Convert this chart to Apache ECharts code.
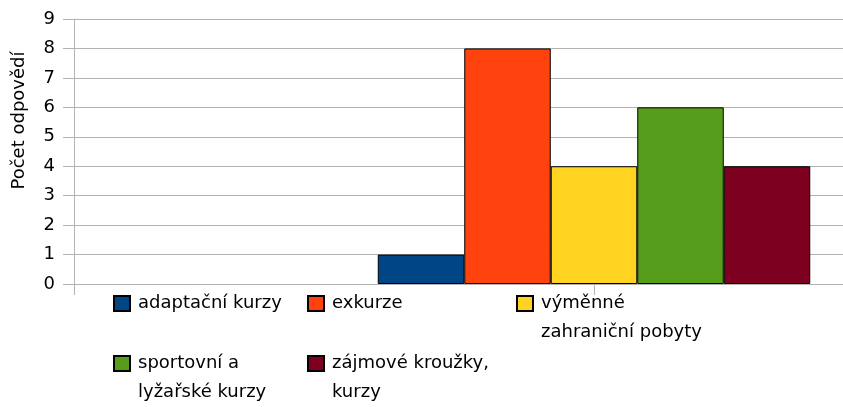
<!DOCTYPE html>
<html>
<head>
<meta charset="utf-8">
<style>
  html, body { margin: 0; padding: 0; background: #fff; }
  #container { width: 843px; height: 407px; }
</style>
<script src="https://cdn.jsdelivr.net/npm/echarts@6/dist/echarts.min.js"></script>
</head>
<body>
<div id="container"></div>
<script>
var dom = document.getElementById('container');
var myChart = echarts.init(dom, null, { renderer: 'canvas' });

// data
var categories = ['', 'odpovědi', ''];                // middle slot holds the bars
var seriesNames = ['adaptační kurzy', 'exkurze', 'výměnné zahraniční pobyty', 'sportovní a lyžařské kurzy', 'zájmové kroužky, kurzy'];
var legendLabels = ['adaptační kurzy', 'exkurze', 'výměnné\nzahraniční pobyty', 'sportovní a\nlyžařské kurzy', 'zájmové kroužky,\nkurzy'];
var seriesValues = [1, 8, 4, 6, 4];
var seriesColors = ['#004586', '#ff420e', '#ffd320', '#579d1c', '#7e0021'];
var yTicks = [0, 1, 2, 3, 4, 5, 6, 7, 8, 9];

var font = 'DejaVu Sans, Liberation Sans, sans-serif';
var gridColor = '#b3b3b3';

// legend slots (icon left, icon centre y) – one legend per entry to get the column layout
var legendPos = [[113, 303.5], [307, 303.5], [516, 303.5], [113, 363.5], [307, 363.5]];

var series = seriesNames.map(function (name, i) {
  return {
    name: name,
    type: 'bar',
    barWidth: 86.5,
    barGap: '0%',
    itemStyle: { color: seriesColors[i], borderColor: '#000', borderWidth: 1 },
    data: categories.map(function (c, j) { return j === 1 ? seriesValues[i] : null; })
  };
});

var legends = seriesNames.map(function (name, i) {
  var twoLines = legendLabels[i].indexOf('\n') >= 0;
  var cy = legendPos[i][1];
  return {
    left: legendPos[i][0],
    top: twoLines ? cy - 43.5 : cy - 14.5,
    padding: 0,
    orient: 'horizontal',
    icon: 'rect',
    itemWidth: 16,
    itemHeight: 15,
    data: [name],
    // empty first line so the first real line sits next to the icon
    formatter: function () { return twoLines ? '\n' + legendLabels[i] : legendLabels[i]; },
    textStyle: {
      fontFamily: font,
      fontSize: 18,
      color: '#000',
      lineHeight: 29,
      padding: [0, 0, 0, 3]
    }
  };
});

var option = {
  animation: false,
  textStyle: { fontFamily: font },
  // plot runs past the right edge of the picture (cut off like the original)
  grid: { left: 74, top: 19, height: 265, width: 1040, containLabel: false, outerBoundsMode: 'none' },
  xAxis: {
    type: 'category',
    data: categories,
    boundaryGap: false,
    axisLine: { show: true, lineStyle: { color: gridColor, width: 1 } },
    axisTick: { show: true, length: 11, lineStyle: { color: gridColor } },
    axisLabel: { show: false },
    splitLine: { show: false }
  },
  yAxis: {
    type: 'value',
    min: yTicks[0],
    max: yTicks[yTicks.length - 1],
    interval: 1,
    axisLine: { show: true, lineStyle: { color: gridColor, width: 1 } },
    axisTick: { show: true, length: 11, lineStyle: { color: gridColor } },
    axisLabel: { margin: 19, fontSize: 18, color: '#000', fontFamily: font },
    splitLine: { show: true, lineStyle: { color: gridColor, width: 1 } }
  },
  graphic: [{
    type: 'text',
    x: 19,
    y: 120.5,
    rotation: Math.PI / 2,
    style: {
      text: 'Počet odpovědí',
      fontFamily: font,
      fontSize: 18,
      fill: '#000',
      align: 'center',
      verticalAlign: 'middle'
    }
  }],
  legend: legends,
  series: series
};

myChart.setOption(option);
window.addEventListener('resize', myChart.resize);
</script>
</body>
</html>
